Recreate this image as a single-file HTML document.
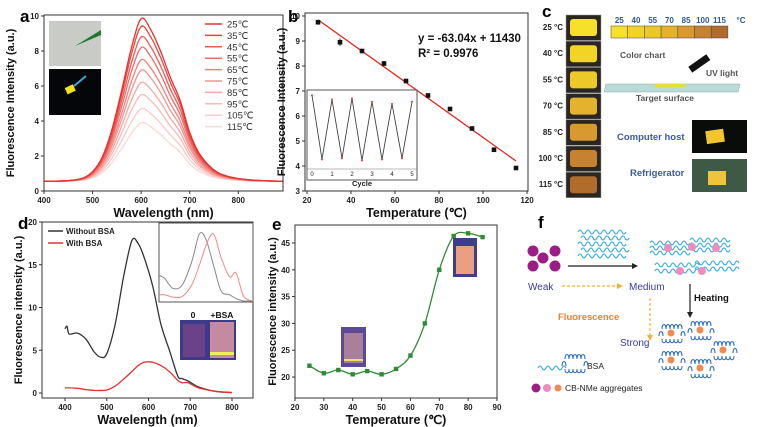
<!DOCTYPE html>
<html><head><meta charset="utf-8"><style>
html,body{margin:0;padding:0;background:#fff;}
svg{display:block;font-family:"Liberation Sans",Arial,sans-serif;}
.tk{font-size:8px;font-weight:bold;fill:#222;}
.tt{font-size:12.5px;font-weight:bold;fill:#111;}
.ty{font-size:11px;font-weight:bold;fill:#111;}
.pl{font-size:17px;font-weight:bold;fill:#000;}
</style></head><body>
<svg id="fig" width="773" height="427" viewBox="0 0 773 427" xmlns="http://www.w3.org/2000/svg">
<g id="A"></g>
<g id="B"></g>
<g id="C"></g>
<g id="D"></g>
<g id="E"></g>
<g id="F"></g>
</svg>
<script>
// ---- Panel a data
const aTemps = ["25℃","35℃","45℃","55℃","65℃","75℃","85℃","95℃","105℃","115℃"];
const aPeaks = [9.85,9.4,8.8,8.2,7.5,6.9,6.2,5.5,4.7,3.9];
const aWl = [400,450,480,500,520,540,560,580,600,620,640,660,680,700,720,750,780,820,850,892];
const aShape = [0,0.005,0.02,0.06,0.15,0.32,0.56,0.82,1.0,0.93,0.8,0.64,0.5,0.3,0.17,0.07,0.03,0.01,0.005,0];
const aXTicks = [400,500,600,700,800];
const aYTicks = [0,2,4,6,8,10];
// ---- Panel b data
const bTemps = [25,35,45,55,65,75,85,95,105,115];
const bVals = [9.75,8.95,8.6,8.1,7.4,6.82,6.28,5.5,4.65,3.92];
const bErr = [0.08,0.15,0.05,0.1,0.05,0.06,0.08,0.05,0.08,0.05];
const bFit = [[25,9.85],[115,4.2]];
const bXTicks = [20,40,60,80,100,120];
const bYTicks = [3,4,5,6,7,8,9,10];
const bCycX = [0,0.5,1,1.5,2,2.5,3,3.5,4,4.5,5];
const bCycY = [6.9,3.9,6.7,3.95,6.75,3.85,6.6,3.9,6.5,3.95,6.6];
// ---- Panel c data
const cTemps = ["25 °C","40 °C","55 °C","70 °C","85 °C","100 °C","115 °C"];
const cChart = ["25","40","55","70","85","100","115"];
const cColors = ["#f6e02a","#f2d524","#ecc828","#e4b22c","#d89a2e","#c6822e","#b06c2a"];
// ---- Panel d data
const dWl = [400,405,410,430,450,470,485,500,520,540,560,575,590,610,630,650,670,680,695,720,760,800];
const dBlack = [7.5,7.8,6.9,7.0,6.3,4.8,4.2,4.6,8.0,13.5,17.8,17.5,15.8,12.5,8.0,5.0,2.0,1.7,1.4,0.7,0.2,0.05];
const dRed = [0.6,0.6,0.6,0.55,0.4,0.3,0.3,0.35,0.8,1.6,2.5,3.2,3.6,3.6,3.2,2.5,1.5,1.2,1.2,0.6,0.2,0.05];
const dInX = [0,0.06,0.15,0.25,0.35,0.43,0.5,0.58,0.66,0.75,0.82,0.9,1];
const dInGray = [0.58,0.62,0.75,0.7,0.4,0.05,0.12,0.45,0.78,0.83,0.88,0.93,0.97];
const dInRed = [0.83,0.83,0.86,0.85,0.7,0.45,0.2,0.05,0.35,0.6,0.55,0.85,0.97];
const dXTicks = [400,500,600,700,800];
const dYTicks = [0,5,10,15,20];
// ---- Panel e data
const eTemps = [25,30,35,40,45,50,55,60,65,70,75,80,85];
const eVals = [22.1,20.7,21.3,20.5,21.1,20.5,21.5,24,30,40,46.3,46.8,46.1];
const eXTicks = [20,30,40,50,60,70,80,90];
const eYTicks = [20,25,30,35,40,45];

const NS="http://www.w3.org/2000/svg";
function mk(p,tag,at,txt){const e=document.createElementNS(NS,tag);for(const k in at)e.setAttribute(k,at[k]);if(txt!=null)e.textContent=txt;p.appendChild(e);return e;}
function lin(d0,d1,r0,r1){return v=>r0+(v-d0)/(d1-d0)*(r1-r0);}
function smooth(pts){let d="M"+pts[0][0]+","+pts[0][1];for(let i=0;i<pts.length-1;i++){const p0=pts[Math.max(i-1,0)],p1=pts[i],p2=pts[i+1],p3=pts[Math.min(i+2,pts.length-1)];const c1=[p1[0]+(p2[0]-p0[0])/6,p1[1]+(p2[1]-p0[1])/6],c2=[p2[0]-(p3[0]-p1[0])/6,p2[1]-(p3[1]-p1[1])/6];d+=" C"+c1[0].toFixed(1)+","+c1[1].toFixed(1)+" "+c2[0].toFixed(1)+","+c2[1].toFixed(1)+" "+p2[0].toFixed(1)+","+p2[1].toFixed(1);}return d;}
function frame(g,x0,y0,x1,y1,xs,ys,xt,yt,xl,yl,ytx){
 let r=mk(g,"rect",{x:x0,y:y0,width:x1-x0,height:y1-y0,fill:"none",stroke:"#333","stroke-width":1});
 
 
 xt.forEach(v=>{const x=xs(v);mk(g,"line",{x1:x,x2:x,y1:y1,y2:y1+3,stroke:"#333"});let t=mk(g,"text",{x:x,y:y1+12,"text-anchor":"middle",class:"tk"},v);
 
 });
 yt.forEach(v=>{const y=ys(v);mk(g,"line",{x1:x0-3,x2:x0,y1:y,y2:y,stroke:"#333"});let t=mk(g,"text",{x:x0-5,y:y+3,"text-anchor":"end",class:"tk"},v);
 
 });
 let a=mk(g,"text",{x:(x0+x1)/2,y:y1+26,"text-anchor":"middle",class:"tt"},xl);
 
 
 let b=mk(g,"text",{x:0,y:0,"text-anchor":"middle",class:"ty",transform:"translate("+ytx+","+((y0+y1)/2)+") rotate(-90)"},yl);
 
 
}
// ===== Panel a
(function(){const g=document.getElementById("A");
 const xs=lin(400,892,44,283),ys=lin(0,10,191,16);
 let L=mk(g,"text",{x:20,y:22,class:"pl"},"a");
 
 
 const cols=["#e8302c","#ea4440","#ec5a56","#ee6e6a","#f0827e","#f29692","#f4a8a5","#f6bab7","#f8cbc9","#f9d8d6"];
 for(let c=aPeaks.length-1;c>=0;c--){
  const pts=aWl.map((w,i)=>[xs(w),ys(0.55+(aPeaks[c]-0.55)*aShape[i])]);
  let p=mk(g,"path",{d:smooth(pts),fill:"none",stroke:cols[c],"stroke-width":1.3});
  
  
  let ly=24+c*11.4;
  let ll=mk(g,"line",{x1:205,x2:222,y1:ly,y2:ly,stroke:cols[c],"stroke-width":1.5});
  
  
  let lt=mk(g,"text",{x:227,y:ly+3.5,"font-size":"9.5px",fill:"#333"},aTemps[c]);
  
  
 }
 frame(g,44,15,283,191,xs,ys,aXTicks,aYTicks,"Wavelength (nm)","Fluorescence Intensity (a.u.)",14);
 let p1=mk(g,"rect",{x:49,y:21,width:52,height:45,fill:"#c9ccc6"});
 
 
 mk(g,"path",{d:"M75,46 L101,30 L101,35 Z",fill:"#1d7a2e"});
 let p2=mk(g,"rect",{x:49,y:69,width:52,height:46,fill:"#05060a"});
 
 
 mk(g,"rect",{x:66,y:86,width:9,height:7,fill:"#f3e21a",transform:"rotate(-25 70 90)"});
 mk(g,"line",{x1:74,y1:86,x2:86,y2:76,stroke:"#39a8d6","stroke-width":2});
})();
// ===== Panel b
(function(){const g=document.getElementById("B");
 const xs=lin(20,120,307,527),ys=lin(3,10,191,16);
 let L=mk(g,"text",{x:288,y:22,class:"pl"},"b");
 
 
 frame(g,305,13,528,191,xs,ys,bXTicks,bYTicks,"Temperature (℃)","Fluorescence Intensity (a.u.)",285);
 let f=mk(g,"line",{x1:xs(bFit[0][0]),y1:ys(bFit[0][1]),x2:xs(bFit[1][0]),y2:ys(bFit[1][1]),stroke:"#e8261e","stroke-width":1.3});
 
 
 bTemps.forEach((t,i)=>{const x=xs(t),y=ys(bVals[i]);
  mk(g,"line",{x1:x,x2:x,y1:ys(bVals[i]+bErr[i]),y2:ys(bVals[i]-bErr[i]),stroke:"#333"});
  let m=mk(g,"rect",{x:x-2.3,y:y-2.3,width:4.6,height:4.6,fill:"#111"});
  
  });
 let eq=mk(g,"text",{x:418,y:42,"font-size":"11.5px","font-weight":"bold",fill:"#111"},"y = -63.04x + 11430");
 
 
 let r2=mk(g,"text",{x:418,y:57,"font-size":"11.5px","font-weight":"bold",fill:"#111"},"R² = 0.9976");
 
 
 const ix=lin(-0.2,5.2,308,416),iy=lin(3.5,7.1,168,91);
 let ib=mk(g,"rect",{x:307,y:90,width:110,height:90,fill:"#fff",stroke:"#555"});
 
 
 mk(g,"line",{x1:307,x2:417,y1:169,y2:169,stroke:"#777","stroke-width":0.6});
 let zz=mk(g,"polyline",{points:bCycX.map((c,i)=>ix(c)+","+iy(bCycY[i])).join(" "),fill:"none",stroke:"#444","stroke-width":0.9});
 
 
 bCycX.forEach((c,i)=>mk(g,"circle",{cx:ix(c),cy:iy(bCycY[i]),r:1,fill:"#e33"}));
 [0,1,2,3,4,5].forEach(c=>mk(g,"text",{x:ix(c),y:176,"text-anchor":"middle","font-size":"6px",fill:"#222"},c));
 mk(g,"text",{x:362,y:186,"text-anchor":"middle","font-size":"7.5px","font-weight":"bold",fill:"#222"},"Cycle");
})();
// ===== Panel c
(function(){const g=document.getElementById("C");
 let L=mk(g,"text",{x:542,y:17,class:"pl"},"c");
 
 
 cTemps.forEach((t,i)=>{const y=15+i*26.2;
  let r=mk(g,"rect",{x:566,y:y,width:35,height:25.5,fill:"#2a2622",stroke:"#999","stroke-width":0.5});
  
  
  mk(g,"rect",{x:570,y:y+4,width:27,height:17,rx:3,fill:cColors[i]});
  let tx=mk(g,"text",{x:563,y:y+15,"text-anchor":"end","font-size":"8px","font-weight":"bold",fill:"#222"},t);
  
  });
 cChart.forEach((t,i)=>{const x=611+i*16.7;
  let r=mk(g,"rect",{x:x,y:26,width:16.7,height:12,fill:cColors[i],stroke:"#444","stroke-width":0.5});
  
  
  mk(g,"text",{x:x+8.3,y:23,"text-anchor":"middle","font-size":"8px","font-weight":"bold",fill:"#2d5a9a"},t);});
 mk(g,"text",{x:741,y:23,"text-anchor":"middle","font-size":"8px","font-weight":"bold",fill:"#2d5a9a"},"°C");
 mk(g,"text",{x:620,y:58,"font-size":"8.5px","font-weight":"bold",fill:"#555"},"Color chart");
 mk(g,"rect",{x:688,y:60,width:22,height:7,fill:"#111",transform:"rotate(-35 699 63)"});
 mk(g,"text",{x:706,y:76,"font-size":"8.5px","font-weight":"bold",fill:"#555"},"UV light");
 let s=mk(g,"path",{d:"M606,84 L740,84 L738,92 L604,92 Z",fill:"#b9dad5",stroke:"#8ab","stroke-width":0.5});
 
 
 mk(g,"rect",{x:655,y:84,width:30,height:3,fill:"#e6dc3a"});
 mk(g,"text",{x:636,y:101,"font-size":"8.5px","font-weight":"bold",fill:"#555"},"Target surface");
 mk(g,"text",{x:617,y:140,"font-size":"9.5px","font-weight":"bold",fill:"#3a5aa8"},"Computer host");
 mk(g,"rect",{x:692,y:120,width:55,height:33,fill:"#0a0c0a"});
 mk(g,"rect",{x:706,y:130,width:18,height:13,fill:"#f2c52c",transform:"rotate(-8 715 136)"});
 mk(g,"text",{x:630,y:176,"font-size":"9.5px","font-weight":"bold",fill:"#3a5aa8"},"Refrigerator");
 mk(g,"rect",{x:692,y:159,width:55,height:33,fill:"#3e5a46"});
 mk(g,"rect",{x:708,y:171,width:18,height:14,fill:"#f0c33a"});
})();
// ===== Panel d
(function(){const g=document.getElementById("D");
 const xs=lin(400,800,65,232),ys=lin(0,20,393,222);
 let L=mk(g,"text",{x:18,y:229,class:"pl"},"d");
 
 
 frame(g,42,222,253,398,xs,ys,dXTicks,dYTicks,"Wavelength (nm)","Fluorescence intensity (a.u.)",22);
 let bl=mk(g,"path",{d:smooth(dWl.map((w,i)=>[xs(w),ys(dBlack[i])])),fill:"none",stroke:"#333","stroke-width":1.3});
 
 
 let rd=mk(g,"path",{d:smooth(dWl.map((w,i)=>[xs(w),ys(dRed[i])])),fill:"none",stroke:"#e8302c","stroke-width":1.3});
 
 
 mk(g,"line",{x1:48,x2:63,y1:231,y2:231,stroke:"#333","stroke-width":1.5});
 let l1=mk(g,"text",{x:66,y:234,"font-size":"8px","font-weight":"bold",fill:"#222"},"Without BSA");
 
 
 mk(g,"line",{x1:48,x2:63,y1:243,y2:243,stroke:"#e8302c","stroke-width":1.5});
 let l2=mk(g,"text",{x:66,y:246,"font-size":"8px","font-weight":"bold",fill:"#222"},"With BSA");
 
 
 const ix=lin(0,1,159,253),iy=lin(0,1,230,308);
 let ib=mk(g,"rect",{x:159,y:223,width:94,height:79,fill:"#fff",stroke:"#555"});
 
 
 mk(g,"path",{d:smooth(dInX.map((v,i)=>[ix(v),Math.min(iy(dInGray[i]),301)])),fill:"none",stroke:"#888","stroke-width":1});
 mk(g,"path",{d:smooth(dInX.map((v,i)=>[ix(v),Math.min(iy(dInRed[i]),301)])),fill:"none",stroke:"#f08a88","stroke-width":1});
 let ph=mk(g,"rect",{x:180,y:320,width:56,height:40,fill:"#3c3a8a"});
 
 
 mk(g,"rect",{x:183,y:324,width:22,height:33,fill:"#6a4288"});
 mk(g,"rect",{x:210,y:322,width:24,height:36,fill:"#c68aa0"});
 mk(g,"rect",{x:210,y:352,width:24,height:3,fill:"#eeee55"});
 mk(g,"text",{x:193,y:318,"text-anchor":"middle","font-size":"8.5px","font-weight":"bold",fill:"#111"},"0");
 mk(g,"text",{x:222,y:318,"text-anchor":"middle","font-size":"8.5px","font-weight":"bold",fill:"#111"},"+BSA");
})();
// ===== Panel e
(function(){const g=document.getElementById("E");
 const xs=lin(20,90,295,497),ys=lin(20,45,377,243);
 let L=mk(g,"text",{x:272,y:230,class:"pl"},"e");
 
 
 frame(g,295,225,497,398,xs,ys,eXTicks,eYTicks,"Temperature (℃)","Fluorescence intensity (a.u.)",276);
 let ln=mk(g,"path",{d:smooth(eTemps.map((t,i)=>[xs(t),ys(eVals[i])])),fill:"none",stroke:"#2e8b34","stroke-width":1.3});
 
 
 eTemps.forEach((t,i)=>{let m=mk(g,"rect",{x:xs(t)-2.2,y:ys(eVals[i])-2.2,width:4.4,height:4.4,fill:"#2e8b34"});
  
  });
 let v1=mk(g,"rect",{x:341,y:327,width:25,height:40,fill:"#5a4a98"});
 
 
 mk(g,"rect",{x:344,y:333,width:19,height:30,fill:"#a8809c"});
 mk(g,"rect",{x:344,y:359,width:19,height:2,fill:"#eee45a"});
 let v2=mk(g,"rect",{x:453,y:238,width:24,height:39,fill:"#3e3f86"});
 
 
 mk(g,"rect",{x:456,y:246,width:18,height:28,fill:"#e8a080"});
})();
// ===== Panel f
(function(){const g=document.getElementById("F");
 let L=mk(g,"text",{x:538,y:228,class:"pl"},"f");
 
 
 function wv(x,y,n){let d="M"+x+","+y;for(let i=0;i<n;i++)d+=" q2,"+(i%2?4:-4)+" 4,0";mk(g,"path",{d:d,fill:"none",stroke:"#2aa8e0","stroke-width":1});}
 function coil(cx,cy){let d="M"+(cx-9)+","+cy;for(let i=0;i<5;i++){d+=" c0,-6 4,-6 4,0";}mk(g,"path",{d:d,fill:"none",stroke:"#2a6cc0","stroke-width":1,transform:"translate(0,-4)"});let d2="M"+(cx-9)+","+(cy+6);for(let i=0;i<5;i++){d2+=" c0,5 4,5 4,0";}mk(g,"path",{d:d2,fill:"none",stroke:"#2a6cc0","stroke-width":1});mk(g,"path",{d:"M"+(cx-12)+","+(cy+3)+" c0,-6 4,-6 4,0 M"+(cx+10)+","+(cy+3)+" c0,-6 4,-6 4,0",fill:"none",stroke:"#2a6cc0","stroke-width":1});}
 [[533,251],[555,251],[543,258],[533,266],[555,266]].forEach(p=>{let c=mk(g,"circle",{cx:p[0],cy:p[1],r:5.5,fill:"#9c1c88"});
  
  });
 for(let r=0;r<5;r++)wv(578+(r%2)*3,232+r*6,12);
 for(let r=0;r<3;r++){wv(650,243+r*5,10);wv(690,240+r*5,10);}
 for(let r=0;r<2;r++){wv(655,265+r*6,11);wv(695,263+r*6,11);}
 [[668,248],[692,247],[716,248],[680,271],[702,271]].forEach(p=>mk(g,"circle",{cx:p[0],cy:p[1],r:4,fill:"#ee8cc0"}));
 mk(g,"line",{x1:568,x2:634,y1:266,y2:266,stroke:"#222","stroke-width":1.2});
 mk(g,"path",{d:"M638,266 l-6,-3 v6 z",fill:"#222"});
 mk(g,"text",{x:528,y:290,"font-size":"10px",fill:"#3a3aa0"},"Weak");
 mk(g,"line",{x1:562,x2:618,y1:286,y2:286,stroke:"#f2b430","stroke-width":1.2,"stroke-dasharray":"3,2"});
 mk(g,"path",{d:"M623,286 l-6,-3 v6 z",fill:"#f2b430"});
 mk(g,"text",{x:629,y:290,"font-size":"10px",fill:"#3a3aa0"},"Medium");
 mk(g,"line",{x1:690,x2:690,y1:284,y2:314,stroke:"#222","stroke-width":1.2});
 mk(g,"path",{d:"M690,318 l-3,-6 h6 z",fill:"#222"});
 mk(g,"text",{x:694,y:301,"font-size":"9.5px","font-weight":"bold",fill:"#111"},"Heating");
 let fl=mk(g,"text",{x:558,y:320,"font-size":"9.5px","font-weight":"bold",fill:"#f08030"},"Fluorescence");
 
 
 mk(g,"line",{x1:650,x2:650,y1:298,y2:336,stroke:"#f2b430","stroke-width":1.2,"stroke-dasharray":"3,2"});
 mk(g,"path",{d:"M650,341 l-3,-6 h6 z",fill:"#f2b430"});
 mk(g,"text",{x:620,y:346,"font-size":"10px",fill:"#3a3aa0"},"Strong");
 [[671,333],[700,330],[723,350],[671,360],[700,368]].forEach(p=>{coil(p[0],p[1]);mk(g,"circle",{cx:p[0],cy:p[1],r:3.5,fill:"#f08a50"});});
 wv(538,368,7);coil(574,363);
 mk(g,"text",{x:587,y:369,"font-size":"8.5px",fill:"#222"},"BSA");
 mk(g,"circle",{cx:536,cy:388,r:4.5,fill:"#9c1c88"});
 mk(g,"circle",{cx:547,cy:388,r:4,fill:"#ee8cc0"});
 mk(g,"circle",{cx:558,cy:388,r:3.5,fill:"#f08a50"});
 let lg=mk(g,"text",{x:565,y:391,"font-size":"8.5px",fill:"#222"},"CB-NMe aggregates");
 
 
})();
</script>
</body></html>
